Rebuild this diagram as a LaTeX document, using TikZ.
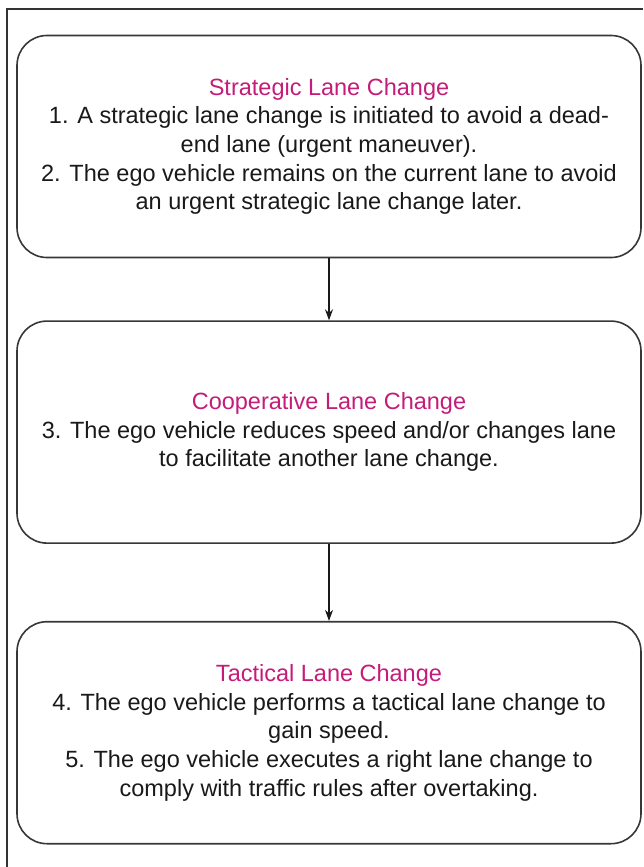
\documentclass[tikz,border=0pt]{standalone}
\usepackage{fontspec}
\setmainfont{Liberation Sans}
\usepackage{tikz}
\usetikzlibrary{arrows.meta, positioning}
\definecolor{lanepink}{RGB}{196,28,120}
\definecolor{boxgray}{RGB}{55,55,55}
\definecolor{txtgray}{RGB}{25,25,25}

\begin{document}
\begin{tikzpicture}[x=1pt, y=1pt,
      box/.style={draw=boxgray, line width=1.6pt, rounded corners=30pt, minimum width=624pt, minimum height=222pt, inner sep=0pt, align=center, text=txtgray, font=\fontsize{23.5}{28.7}\selectfont},
      arr/.style={-{Stealth[length=11pt, width=8pt]}, line width=1.1pt, txtgray}]
    \useasboundingbox (0,0) rectangle (643,-867);
    \draw[line width=1.6pt, black!80] (643,-9) -- (7,-9) -- (7,-867);
    \node[box] (strat) at (329,-146.5) {\textcolor{lanepink}{Strategic Lane Change}\\
      1. A strategic lane change is initiated to avoid a dead-\\
      end lane (urgent maneuver).\\
      2. The ego vehicle remains on the current lane to avoid\\
      an urgent strategic lane change later.};
    \node[box, below=62pt of strat] (coop) {\textcolor{lanepink}{Cooperative Lane Change}\\
      3. The ego vehicle reduces speed and/or changes lane\\
      to facilitate another lane change.};
    \node[box, below=77pt of coop] (tact) {\textcolor{lanepink}{Tactical Lane Change}\\
      4. The ego vehicle performs a tactical lane change to\\
      gain speed.\\
      5. The ego vehicle executes a right lane change to\\
      comply with traffic rules after overtaking.};
    \draw[arr] (strat) -- (coop);
    \draw[arr] (coop) -- (tact);
  \end{tikzpicture}
\end{document}
